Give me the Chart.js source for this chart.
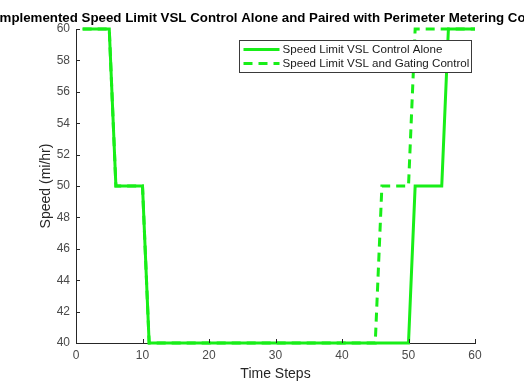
<!DOCTYPE html>
<html>
<head>
<meta charset="utf-8">
<script src="https://cdn.jsdelivr.net/npm/chart.js@4/dist/chart.umd.min.js"></script>
<style>
  html, body { margin: 0; padding: 0; background: #fff; }
  #wrap { width: 524px; height: 383px; }
</style>
</head>
<body>
<div id="wrap"><canvas id="speedChart"></canvas></div>
<script>
// time steps and speed limits (mi/hr)
const timeSteps = [1, 2, 3, 4, 5, 6, 7, 8, 9, 10,
  11, 12, 13, 14, 15, 16, 17, 18, 19, 20,
  21, 22, 23, 24, 25, 26, 27, 28, 29, 30,
  31, 32, 33, 34, 35, 36, 37, 38, 39, 40,
  41, 42, 43, 44, 45, 46, 47, 48, 49, 50,
  51, 52, 53, 54, 55, 56, 57, 58, 59, 60];
const vslAlone = [60, 60, 60, 60, 60, 50, 50, 50, 50, 50,
  40, 40, 40, 40, 40, 40, 40, 40, 40, 40,
  40, 40, 40, 40, 40, 40, 40, 40, 40, 40,
  40, 40, 40, 40, 40, 40, 40, 40, 40, 40,
  40, 40, 40, 40, 40, 40, 40, 40, 40, 40,
  50, 50, 50, 50, 50, 60, 60, 60, 60, 60];
const vslGating = [60, 60, 60, 60, 60, 50, 50, 50, 50, 50,
  40, 40, 40, 40, 40, 40, 40, 40, 40, 40,
  40, 40, 40, 40, 40, 40, 40, 40, 40, 40,
  40, 40, 40, 40, 40, 40, 40, 40, 40, 40,
  40, 40, 40, 40, 40, 50, 50, 50, 50, 50,
  60, 60, 60, 60, 60, 60, 60, 60, 60, 60];
const xTicks = [0, 10, 20, 30, 40, 50, 60];
const yTicks = [40, 42, 44, 46, 48, 50, 52, 54, 56, 58, 60];

const titleText = 'Implemented Speed Limit VSL Control Alone and Paired with Perimeter Metering Control';
const xTitle = 'Time Steps';
const yTitle = 'Speed (mi/hr)';
const green = 'rgb(24, 238, 24)';
const axisColor = '#262626';
const fontFamily = "'Liberation Sans', Arial, Helvetica, sans-serif";

function toPoints(values) {
    return timeSteps.map((t, i) => ({ x: t, y: values[i] }));
}

// title, axis labels, inward tick marks and the boxed legend
const matlabLook = {
    id: 'matlabLook',
    afterDraw(chart) {
        const ctx = chart.ctx;
        const area = chart.chartArea;
        const xs = chart.scales.x;
        const ys = chart.scales.y;
        const midX = (area.left + area.right) / 2;
        ctx.save();

        // inward ticks
        ctx.strokeStyle = axisColor;
        ctx.lineWidth = 1;
        ctx.beginPath();
        xTicks.forEach(v => {
            const px = Math.round(xs.getPixelForValue(v)) + 0.5;
            ctx.moveTo(px, area.bottom);
            ctx.lineTo(px, area.bottom - 4);
        });
        yTicks.forEach(v => {
            const py = Math.round(ys.getPixelForValue(v)) + 0.5;
            ctx.moveTo(area.left, py);
            ctx.lineTo(area.left + 4, py);
        });
        ctx.stroke();

        // title over the plot centre (wider than the canvas, so both ends get cut)
        ctx.fillStyle = '#000';
        ctx.font = 'bold 13.3px ' + fontFamily;
        ctx.textAlign = 'center';
        ctx.textBaseline = 'alphabetic';
        ctx.fillText(titleText, midX, 22);

        // axis labels
        ctx.fillStyle = '#262626';
        ctx.font = '14px ' + fontFamily;
        ctx.textBaseline = 'middle';
        ctx.fillText(xTitle, midX, 374);
        ctx.save();
        ctx.translate(46, (area.top + area.bottom) / 2);
        ctx.rotate(-Math.PI / 2);
        ctx.fillText(yTitle, 0, 0);
        ctx.restore();

        // legend box
        const box = { x: 239.5, y: 40.5, w: 232, h: 32 };
        ctx.fillStyle = '#fff';
        ctx.fillRect(box.x, box.y, box.w, box.h);
        ctx.strokeStyle = '#3a3a3a';
        ctx.lineWidth = 1;
        ctx.strokeRect(box.x, box.y, box.w, box.h);
        ctx.font = '11.6px ' + fontFamily;
        ctx.textAlign = 'left';
        chart.data.datasets.forEach((ds, i) => {
            const yy = box.y + 9 + i * 14;
            ctx.strokeStyle = ds.borderColor;
            ctx.lineWidth = ds.borderWidth;
            ctx.setLineDash(ds.borderDash || []);
            ctx.beginPath();
            ctx.moveTo(box.x + 4, yy);
            ctx.lineTo(box.x + 40, yy);
            ctx.stroke();
            ctx.setLineDash([]);
            ctx.fillStyle = '#1a1a1a';
            ctx.fillText(ds.label, box.x + 43, yy);
        });
        ctx.restore();
    }
};

new Chart(document.getElementById('speedChart'), {
    type: 'line',
    data: {
        datasets: [
            {
                label: 'Speed Limit VSL Control Alone',
                data: toPoints(vslAlone),
                borderColor: green,
                borderWidth: 3,
                pointRadius: 0,
                tension: 0,
                order: 1
            },
            {
                label: 'Speed Limit VSL and Gating Control',
                data: toPoints(vslGating),
                borderColor: green,
                borderWidth: 3,
                borderDash: [9, 6],
                pointRadius: 0,
                tension: 0,
                order: 2
            }
        ]
    },
    options: {
        responsive: true,
        maintainAspectRatio: false,
        animation: false,
        clip: false,
        layout: { padding: { left: 0, top: 29, right: 49, bottom: 0 } },
        plugins: {
            legend: { display: false },
            title: { display: false },
            tooltip: { enabled: false }
        },
        scales: {
            x: {
                type: 'linear',
                min: 0,
                max: 60,
                afterFit: s => { s.height = 40; },
                afterBuildTicks: s => { s.ticks = xTicks.map(v => ({ value: v })); },
                grid: { display: false, drawTicks: false },
                border: { display: true, color: axisColor, width: 1 },
                ticks: { color: '#4a4a4a', font: { family: fontFamily, size: 12 }, padding: 5 }
            },
            y: {
                type: 'linear',
                min: 40,
                max: 60,
                afterFit: s => { s.width = 76; },
                afterBuildTicks: s => { s.ticks = yTicks.map(v => ({ value: v })); },
                grid: { display: false, drawTicks: false },
                border: { display: true, color: axisColor, width: 1 },
                ticks: { color: '#4a4a4a', font: { family: fontFamily, size: 12 }, padding: 6 }
            }
        }
    },
    plugins: [matlabLook]
});
</script>
</body>
</html>
